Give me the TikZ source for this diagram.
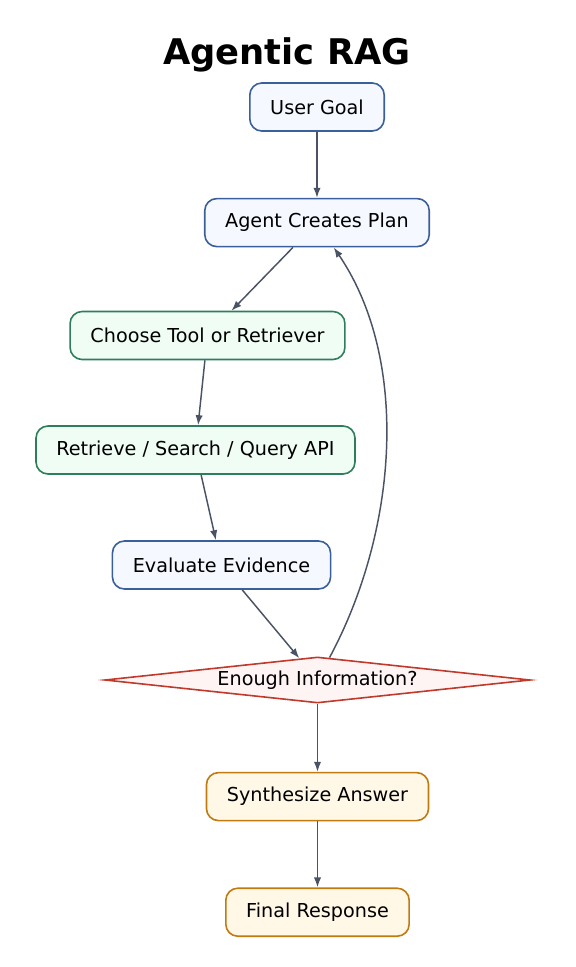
\documentclass[tikz,border=0pt]{standalone}
\usepackage{fontspec}
\setmainfont{DejaVu Sans}
\usetikzlibrary{arrows.meta,positioning,shapes.geometric}
\definecolor{planblue}{HTML}{3A5F9A}
\definecolor{planfill}{HTML}{F5F9FF}
\definecolor{toolgreen}{HTML}{2E7D5B}
\definecolor{toolfill}{HTML}{EFFDF4}
\definecolor{decred}{HTML}{C0392B}
\definecolor{decfill}{HTML}{FFF4F4}
\definecolor{ansorange}{HTML}{C07A10}
\definecolor{ansfill}{HTML}{FFF8E7}
\definecolor{edgegray}{HTML}{4A5265}

\begin{document}
\begin{tikzpicture}[x=0.75pt,y=-0.75pt,font=\fontsize{14.4}{17}\selectfont,
   box/.style={rounded corners=9pt,line width=1.2pt,inner xsep=15.3pt,
               minimum height=36pt},
   plan/.style={box,draw=planblue,fill=planfill},
   tool/.style={box,draw=toolgreen,fill=toolfill},
   ans/.style={box,draw=ansorange,fill=ansfill},
   dec/.style={diamond,aspect=9.3,inner sep=1pt,draw=decred,fill=decfill,
               line width=1.2pt,minimum width=319pt,minimum height=34.5pt},
   flow/.style={draw=edgegray,line width=1.1pt,-{Latex[length=7.5pt,width=5.5pt]}}]
  \useasboundingbox (0,0) rectangle (575,967);
  \node[font=\fontsize{26.5}{30}\selectfont\bfseries] (title) at (287,55) {Agentic RAG};
  \node[plan] (goal) at (317,107) {User Goal};
  \node[plan,below=49.5pt of goal] (mkplan) {Agent Creates Plan};
  \node[tool] (choose) at (207.5,335.5) {Choose Tool or Retriever};
  \node[tool] (fetch) at (195.5,450) {Retrieve / Search / Query API};
  \node[plan] (evid) at (221.5,565) {Evaluate Evidence};
  \node[dec] (enough) at (317.5,680) {Enough Information?};
  \node[ans,below=51pt of enough] (synth) {Synthesize Answer};
  \node[ans,below=49.5pt of synth] (final) {Final Response};

  \draw[flow] (goal) -- (mkplan);
  \draw[flow] (mkplan) -- (choose);
  \draw[flow] (choose) -- (fetch);
  \draw[flow] (fetch) -- (evid);
  \draw[flow] (evid) -- (enough);
  \draw[flow] (enough) .. controls (398,530) and (410,360) .. (mkplan);
  \draw[flow] (enough) -- (synth);
  \draw[flow] (synth) -- (final);
\end{tikzpicture}
\end{document}
